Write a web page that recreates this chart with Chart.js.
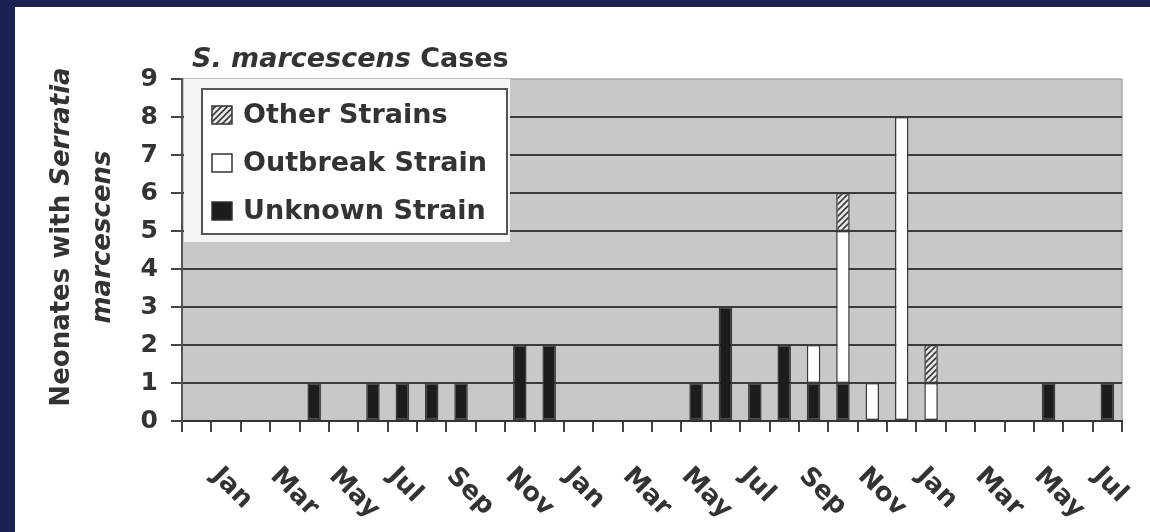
<!DOCTYPE html>
<html>
<head>
<meta charset="utf-8">
<script src="https://cdn.jsdelivr.net/npm/chart.js@4.4.0/dist/chart.umd.min.js"></script>
<style>
    html, body { margin: 0; padding: 0; background: #1b2151; overflow: hidden; }
    #wrap { position: absolute; left: 15px; top: 7px; width: 1135px; height: 525px; background: #ffffff; }
    canvas { display: block; }
</style>
</head>
<body>
<div id="wrap"><canvas id="casesChart" width="1135" height="525"></canvas></div>
<script>
// months from Jan (year 1) to Aug (year 3)
const months = [
    "Jan", "Feb", "Mar", "Apr", "May", "Jun", "Jul", "Aug", "Sep", "Oct", "Nov", "Dec",
    "Jan", "Feb", "Mar", "Apr", "May", "Jun", "Jul", "Aug", "Sep", "Oct", "Nov", "Dec",
    "Jan", "Feb", "Mar", "Apr", "May", "Jun", "Jul", "Aug",
];
const unknownStrain = [
    0, 0, 0, 0, 1, 0, 1, 1, 1, 1, 0, 2,
    2, 0, 0, 0, 0, 1, 3, 1, 2, 1, 1, 0,
    0, 0, 0, 0, 0, 1, 0, 1,
];
const outbreakStrain = [
    0, 0, 0, 0, 0, 0, 0, 0, 0, 0, 0, 0,
    0, 0, 0, 0, 0, 0, 0, 0, 0, 1, 4, 1,
    8, 1, 0, 0, 0, 0, 0, 0,
];
const otherStrains = [
    0, 0, 0, 0, 0, 0, 0, 0, 0, 0, 0, 0,
    0, 0, 0, 0, 0, 0, 0, 0, 0, 0, 1, 0,
    0, 1, 0, 0, 0, 0, 0, 0,
];
const yMax = 9;

const FONT = "'DejaVu Sans', 'Liberation Sans', sans-serif";
const TEXT = "#333333";

// diagonal hatch for "Other Strains"
function makeHatch() {
    const c = document.createElement("canvas");
    c.width = 6;
    c.height = 6;
    const g = c.getContext("2d");
    g.fillStyle = "#e8e8e8";
    g.fillRect(0, 0, 6, 6);
    g.strokeStyle = "#3a3a3a";
    g.lineWidth = 1.6;
    g.beginPath();
    g.moveTo(0, 6); g.lineTo(6, 0);
    g.moveTo(-3, 3); g.lineTo(3, -3);
    g.moveTo(3, 9); g.lineTo(9, 3);
    g.stroke();
    return g.createPattern(c, "repeat");
}
const hatch = makeHatch();

// gray plot background + right edge
const plotBackground = {
    id: "plotBackground",
    beforeDraw(chart) {
        const { ctx, chartArea: a } = chart;
        ctx.save();
        ctx.fillStyle = "#c8c8c8";
        ctx.fillRect(a.left, a.top, a.right - a.left, a.bottom - a.top);
        ctx.strokeStyle = "#a8a8a8";
        ctx.lineWidth = 1.5;
        ctx.beginPath();
        ctx.moveTo(a.right, a.top);
        ctx.lineTo(a.right, a.bottom);
        ctx.moveTo(a.left, a.top);
        ctx.lineTo(a.right, a.top);
        ctx.stroke();
        ctx.restore();
    },
};

// titles, rotated month labels and boxed legend
const annotations = {
    id: "annotations",
    afterDraw(chart) {
        const { ctx, chartArea: a } = chart;
        const xScale = chart.scales.x;
        ctx.save();
        ctx.fillStyle = TEXT;

        // chart title
        ctx.textBaseline = "alphabetic";
        ctx.textAlign = "left";
        ctx.font = "italic bold 27px " + FONT;
        ctx.fillText("S. marcescens", 177, 60);
        const w1 = ctx.measureText("S. marcescens").width;
        ctx.font = "bold 27px " + FONT;
        ctx.fillText(" Cases", 177 + w1, 60);

        // y axis title (two lines)
        ctx.save();
        ctx.translate(47, 230);
        ctx.rotate(-Math.PI / 2);
        ctx.textBaseline = "middle";
        ctx.font = "bold 26px " + FONT;
        const pA = "Neonates with ";
        const wA = ctx.measureText(pA).width;
        ctx.font = "italic bold 26px " + FONT;
        const wB = ctx.measureText("Serratia").width;
        let x0 = -(wA + wB) / 2;
        ctx.font = "bold 26px " + FONT;
        ctx.fillText(pA, x0, 0);
        ctx.font = "italic bold 26px " + FONT;
        ctx.fillText("Serratia", x0 + wA, 0);
        ctx.textAlign = "center";
        ctx.fillText("marcescens", 0, 41);
        ctx.restore();

        // x labels, every other month, rotated clockwise
        ctx.font = "bold 26px " + FONT;
        ctx.textAlign = "left";
        ctx.textBaseline = "top";
        months.forEach((m, i) => {
            if (i % 2 !== 0) return;
            const px = xScale.getPixelForTick(i);
            ctx.save();
            ctx.translate(px + 28, a.bottom + 42);
            ctx.rotate(Math.PI / 4);
            ctx.fillText(m, 0, 0);
            ctx.restore();
        });

        // legend
        ctx.fillStyle = "#f4f4f4";
        ctx.fillRect(a.left + 2, a.top, 326, 163);
        ctx.fillStyle = "#ffffff";
        ctx.fillRect(187, 82, 305, 145);
        ctx.strokeStyle = "#555555";
        ctx.lineWidth = 2;
        ctx.strokeRect(187, 82, 305, 145);
        const items = chart.data.datasets.slice().reverse();
        ctx.font = "bold 27px " + FONT;
        ctx.textBaseline = "middle";
        items.forEach((ds, k) => {
            const cy = 108 + k * 48;
            ctx.fillStyle = ds.backgroundColor;
            ctx.fillRect(197, cy - 9, 20, 18);
            ctx.strokeStyle = "#333333";
            ctx.lineWidth = 1.5;
            ctx.strokeRect(197, cy - 9, 20, 18);
            ctx.fillStyle = TEXT;
            ctx.fillText(ds.label, 228, cy + 1);
        });
        ctx.restore();
    },
};

const casesChart = new Chart(document.getElementById("casesChart"), {
    type: "bar",
    data: {
        labels: months,
        datasets: [
            {
                label: "Unknown Strain",
                data: unknownStrain.map((v) => v || null),
                backgroundColor: "#1c1c1c",
            },
            {
                label: "Outbreak Strain",
                data: outbreakStrain.map((v) => v || null),
                backgroundColor: "#ffffff",
            },
            {
                label: "Other Strains",
                data: otherStrains.map((v) => v || null),
                backgroundColor: hatch,
            },
        ],
    },
    options: {
        responsive: false,
        animation: false,
        layout: {
            padding: { left: 0, right: 28, top: 72, bottom: 0 },
        },
        datasets: {
            bar: {
                categoryPercentage: 1,
                barPercentage: 0.46,
                borderColor: "#3a3a3a",
                borderWidth: 1.5,
                borderSkipped: false,
            },
        },
        plugins: {
            legend: { display: false },
            tooltip: { enabled: false },
        },
        scales: {
            x: {
                stacked: true,
                offset: true,
                grid: {
                    offset: true,
                    drawOnChartArea: false,
                    drawTicks: true,
                    tickLength: 11,
                    tickColor: "#444444",
                    lineWidth: 2,
                },
                border: { display: true, color: "#333333", width: 2 },
                ticks: { display: false, autoSkip: false },
                afterFit: (scale) => {
                    scale.height = 111;
                },
            },
            y: {
                stacked: true,
                min: 0,
                max: yMax,
                ticks: {
                    stepSize: 1,
                    color: TEXT,
                    padding: 13,
                    font: { family: FONT, size: 25, weight: "bold" },
                },
                grid: {
                    color: (c) => (c.tick && c.tick.value === yMax ? "rgba(0,0,0,0)" : "#3c3c3c"),
                    lineWidth: 2,
                    tickLength: 11,
                    tickColor: "#444444",
                },
                border: { color: "#555555", width: 2 },
                afterFit: (scale) => {
                    scale.width = 167;
                },
            },
        },
    },
    plugins: [plotBackground, annotations],
});
</script>
</body>
</html>
